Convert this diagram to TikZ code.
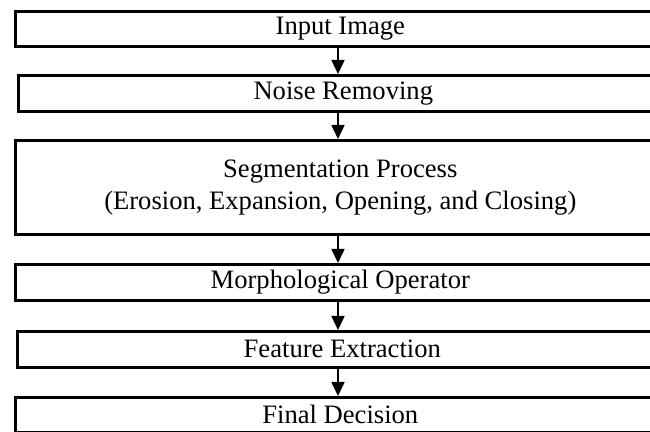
\documentclass[tikz,border=0pt]{standalone}
\usepackage{fontspec}
\setmainfont{Liberation Serif}
\usetikzlibrary{arrows.meta, positioning}

\tikzset{
  stage/.style={draw, line width=1.3pt, anchor=north west, minimum width=325pt,
    inner sep=0pt, align=center, font=\fontsize{13.3}{16}\selectfont},
  flow/.style={-{Triangle[width=6.5pt, length=7pt]}, line width=0.8pt}
}

\begin{document}
\begin{tikzpicture}[x=0.5pt, y=-0.5pt]
    \useasboundingbox (0,0) rectangle (650,432);
    \clip (0,0) rectangle (650,432);

    % processing stages, top to bottom
    \node[stage, minimum height=17.5pt] (input) at (14,10) {Input Image};
    \node[stage, minimum height=18pt] (noise) at (17,74) {Noise Removing};
    \node[stage, minimum height=47pt] (segm) at (14,139)
        {Segmentation Process\\(Erosion, Expansion, Opening, and Closing)};
    \node[stage, minimum height=18pt] (morph) at (14,263) {Morphological Operator};
    \node[stage, minimum height=18pt] (feat) at (16,330) {Feature Extraction};
    \node[stage, minimum height=17.5pt] (final) at (14,396) {Final Decision};

    % arrows down the middle
    \coordinate (mid) at (338,0);
    \draw[flow] (input.south -| mid) -- (noise.north -| mid);
    \draw[flow] (noise.south -| mid) -- (segm.north -| mid);
    \draw[flow] (segm.south -| mid) -- (morph.north -| mid);
    \draw[flow] (morph.south -| mid) -- (feat.north -| mid);
    \draw[flow] (feat.south -| mid) -- (final.north -| mid);
\end{tikzpicture}
\end{document}
